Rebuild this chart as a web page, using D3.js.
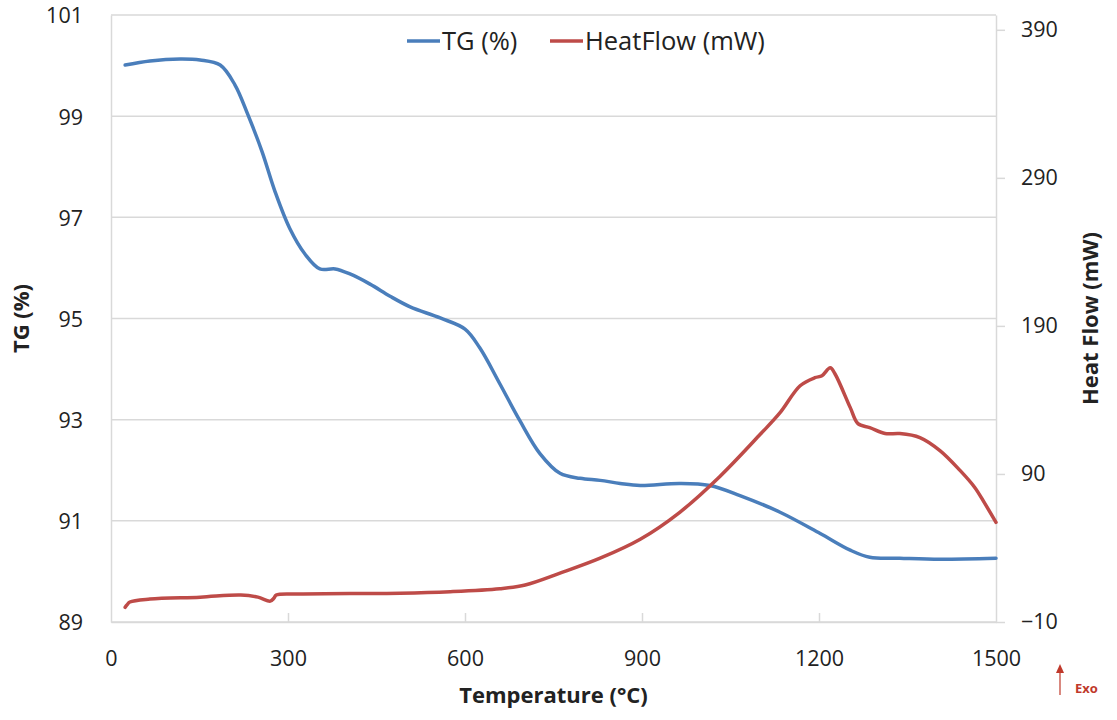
<!DOCTYPE html>
<html>
<head>
<meta charset="utf-8">
<script src="https://cdn.jsdelivr.net/npm/d3@7"></script>
<style>
  body { margin: 0; background: #fff; }
  svg { font-family: "Open Sans", sans-serif; }
</style>
</head>
<body>
<div id="chart"></div>
<script>
// TG curve (temperature °C, mass %)
var tgTemp = [24, 66, 117, 151, 185, 210, 232, 256, 278, 303, 329, 354, 380, 405, 439, 473, 507, 558, 600, 625, 659, 693, 727, 761, 795, 829, 863, 897, 964, 1015, 1066, 1134, 1202, 1253, 1286, 1337, 1405, 1500];
var tgVal = [100.01, 100.09, 100.13, 100.11, 100.01, 99.62, 99.03, 98.30, 97.51, 96.78, 96.27, 95.98, 95.98, 95.88, 95.68, 95.44, 95.23, 95.01, 94.79, 94.42, 93.71, 92.98, 92.33, 91.94, 91.84, 91.80, 91.74, 91.70, 91.74, 91.70, 91.50, 91.17, 90.75, 90.42, 90.28, 90.26, 90.24, 90.26];

// Heat flow curve (temperature °C, mW)
var hfTemp = [24, 27, 32, 66, 151, 220, 249, 270, 276, 280, 320, 490, 575, 659, 702, 761, 829, 897, 964, 1032, 1100, 1134, 1168, 1193, 1205, 1219, 1227, 1253, 1266, 1286, 1312, 1337, 1371, 1405, 1439, 1464, 1481, 1500];
var hfVal = [-0.1, 1.5, 3.5, 5.5, 6.8, 8.2, 6.8, 4.1, 6.0, 8.2, 8.9, 9.5, 10.5, 12.5, 15.0, 23.0, 33.1, 45.9, 64.1, 88.3, 116.6, 131.4, 149.6, 155.0, 156.3, 161.7, 157.7, 134.8, 124.0, 121.3, 117.3, 117.3, 114.6, 105.8, 92.4, 80.9, 70.1, 57.3];

var xTicks = [0, 300, 600, 900, 1200, 1500];
var yLeftTicks = [89, 91, 93, 95, 97, 99, 101];
var yRightTicks = [-10, 90, 190, 290, 390];

var width = 1117, height = 720;
var margin = {top: 15, right: 121, bottom: 98, left: 111};

var svg = d3.select("#chart")
    .append("svg")
    .attr("width", width)
    .attr("height", height);

var x = d3.scaleLinear().domain([0, 1500]).range([margin.left, width - margin.right]);
var y = d3.scaleLinear().domain([89, 101]).range([height - margin.bottom, margin.top]);
var y2 = d3.scaleLinear().domain([-10, 400]).range([height - margin.bottom, margin.top]);

var grid = "#d9d9d9";

// horizontal gridlines
svg.append("g")
    .selectAll("line")
    .data(yLeftTicks)
    .enter()
    .append("line")
    .attr("x1", x(0))
    .attr("x2", x(1500))
    .attr("y1", function(d) { return y(d); })
    .attr("y2", function(d) { return y(d); })
    .attr("stroke", grid)
    .attr("stroke-width", 1.5);

// bottom axis
var xAxis = svg.append("g")
    .attr("transform", "translate(0," + y(89) + ")")
    .call(d3.axisBottom(x).tickValues(xTicks).tickFormat(d3.format("d"))
        .tickSizeInner(-9).tickSizeOuter(0).tickPadding(29));

// left axis
var yAxis = svg.append("g")
    .attr("transform", "translate(" + x(0) + ",0)")
    .call(d3.axisLeft(y).tickValues(yLeftTicks).tickSize(0).tickPadding(28));

// right axis
var y2Axis = svg.append("g")
    .attr("transform", "translate(" + x(1500) + ",0)")
    .call(d3.axisRight(y2).tickValues(yRightTicks).tickSizeInner(9).tickSizeOuter(0).tickPadding(16));

[xAxis, yAxis, y2Axis].forEach(function(a) {
  a.select(".domain").attr("stroke", grid).attr("stroke-width", 1.5);
  a.selectAll(".tick line").attr("stroke", grid).attr("stroke-width", 1.5);
  a.selectAll(".tick text")
      .attr("font-family", "'Open Sans', sans-serif")
      .attr("font-size", 21.5)
      .attr("fill", "#222");
});
xAxis.selectAll(".tick line").filter(function(d) { return d === 0 || d === 1500; }).remove();
yAxis.selectAll(".tick text").attr("dy", "0.37em");

var tgLine = d3.line()
    .x(function(d, i) { return x(tgTemp[i]); })
    .y(function(d) { return y(d); })
    .curve(d3.curveCatmullRom.alpha(0.5));

var hfLine = d3.line()
    .x(function(d, i) { return x(hfTemp[i]); })
    .y(function(d) { return y2(d); })
    .curve(d3.curveCatmullRom.alpha(0.5));

svg.append("path")
    .attr("d", tgLine(tgVal))
    .attr("fill", "none")
    .attr("stroke", "#4a7ebb")
    .attr("stroke-width", 3.5)
    .attr("stroke-linecap", "round");

svg.append("path")
    .attr("d", hfLine(hfVal))
    .attr("fill", "none")
    .attr("stroke", "#be4b48")
    .attr("stroke-width", 3.5)
    .attr("stroke-linecap", "round");

// legend
var legend = [
  {name: "TG (%)", color: "#4a7ebb", x: 407},
  {name: "HeatFlow (mW)", color: "#be4b48", x: 550}
];
var lg = svg.append("g").selectAll("g")
    .data(legend)
    .enter()
    .append("g")
    .attr("transform", function(d) { return "translate(" + d.x + ",41)"; });
lg.append("line")
    .attr("x1", 0).attr("x2", 33)
    .attr("stroke", function(d) { return d.color; })
    .attr("stroke-width", 3.5);
lg.append("text")
    .attr("x", 35)
    .attr("dy", "0.35em")
    .attr("font-size", 25.5)
    .attr("fill", "#222")
    .text(function(d) { return d.name; });

// axis titles
svg.append("text")
    .attr("x", x(750))
    .attr("y", 703)
    .attr("text-anchor", "middle")
    .attr("font-size", 22)
    .attr("font-weight", "bold")
    .attr("fill", "#222")
    .text("Temperature (°C)");

svg.append("text")
    .attr("transform", "translate(29," + y(95) + ") rotate(-90)")
    .attr("text-anchor", "middle")
    .attr("font-size", 22)
    .attr("font-weight", "bold")
    .attr("fill", "#222")
    .text("TG (%)");

svg.append("text")
    .attr("transform", "translate(1098," + y(95) + ") rotate(-90)")
    .attr("text-anchor", "middle")
    .attr("font-size", 22)
    .attr("font-weight", "bold")
    .attr("fill", "#222")
    .text("Heat Flow (mW)");

// exo marker
svg.append("line")
    .attr("x1", 1060).attr("x2", 1060)
    .attr("y1", 695).attr("y2", 668)
    .attr("stroke", "#c0392b")
    .attr("stroke-width", 1.2);
svg.append("path")
    .attr("d", "M1056,673 L1060,664 L1064,673 Z")
    .attr("fill", "#c0392b");
svg.append("text")
    .attr("x", 1075)
    .attr("y", 693)
    .attr("font-size", 13)
    .attr("font-weight", "bold")
    .attr("fill", "#c0392b")
    .text("Exo");
</script>
</body>
</html>
